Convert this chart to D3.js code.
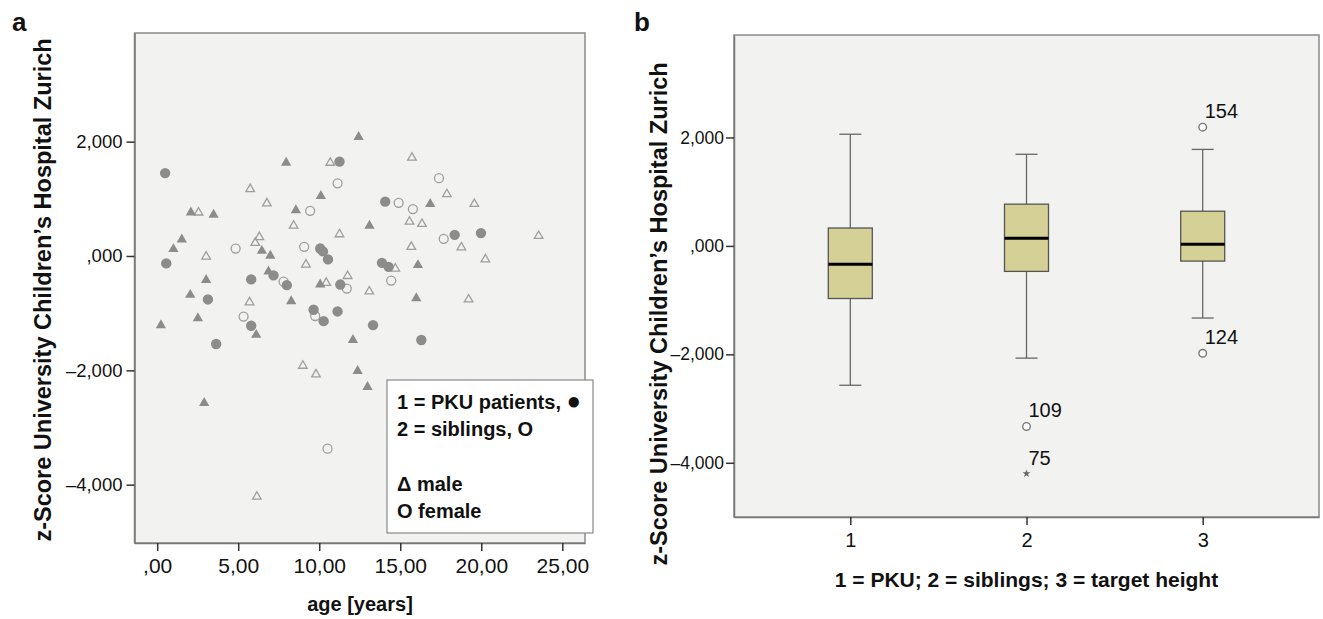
<!DOCTYPE html>
<html lang="en">
    <head>
        <meta charset="utf-8">
        <title>z-Score PKU</title>
        <script src="https://d3js.org/d3.v7.min.js"></script>
        <style type="text/css">
            body { margin: 0; background: #fff; }
            svg { font-family: "Liberation Sans", Arial, sans-serif; }
            .tick text { fill: #111; }
            .ylab .tick text { font-size: 18.5px; }
            .xlab .tick text { font-size: 21px; }
            .bold { font-weight: bold; fill: #111; }
        </style>
    </head>
    <body>
        <script type="text/javascript">

            //data - panel a, [age, z-score]
            const pkuFemale = [[0.49,1.45],[11.25,1.65],[10.06,0.13],[10.23,0.08],[10.54,-0.06],[0.56,-0.13],[5.8,-0.41],
                [7.18,-0.34],[8.0,-0.51],[11.3,-0.5],[3.13,-0.76],[9.65,-0.94],[10.27,-1.14],[11.13,-0.97],[5.8,-1.22],
                [3.64,-1.54],[14.07,0.95],[18.36,0.37],[19.98,0.40],[13.87,-0.12],[14.28,-0.19],[13.32,-1.21],[16.3,-1.47]];
            const pkuMale = [[7.96,1.63],[10.1,1.05],[2.08,0.76],[3.48,0.72],[8.56,0.80],[1.52,0.29],[1.0,0.12],[6.46,0.09],
                [6.98,0.005],[3.02,-0.42],[6.87,-0.27],[10.06,-0.5],[2.04,-0.68],[8.27,-0.79],[2.51,-1.09],[0.23,-1.21],
                [6.11,-1.38],[2.9,-2.57],[12.43,2.08],[16.85,0.91],[13.1,0.53],[16.09,-0.16],[15.99,-0.74],[12.08,-1.47],
                [12.37,-2.01],[12.98,-2.29]];
            const sibFemale = [[11.13,1.27],[9.44,0.79],[4.84,0.13],[9.07,0.16],[7.8,-0.45],[11.7,-0.57],[9.75,-1.05],
                [5.33,-1.06],[10.51,-3.37],[17.39,1.36],[14.9,0.93],[15.78,0.82],[17.68,0.3],[14.44,-0.43]];
            const sibMale = [[10.68,1.63],[5.74,1.17],[6.77,0.92],[2.55,0.76],[8.42,0.53],[11.25,0.38],[6.3,0.33],[6.05,0.23],
                [3.02,-0.01],[9.18,-0.15],[11.75,-0.35],[10.43,-0.47],[5.7,-0.81],[8.99,-1.92],[9.8,-2.07],[6.15,-4.21],
                [15.72,1.72],[17.88,1.08],[19.57,0.91],[15.57,0.6],[16.34,0.56],[23.54,0.35],[15.68,0.16],[18.77,0.15],
                [20.25,-0.06],[14.69,-0.22],[13.09,-0.62],[19.22,-0.76]];
            const ageTicks = [0, 5, 10, 15, 20, 25];
            const zTicks = [-4, -2, 0, 2];
            const legendLines = [["1 = PKU patients, ", "\u25CF"], ["2 = siblings, O", ""], ["", ""], ["\u0394 male", ""], ["O female", ""]];

            //data - panel b, box plots
            const groups = ["1", "2", "3"];
            const boxes = [
                {g: "1", lo: -2.57, q1: -0.97, med: -0.34, q3: 0.33, hi: 2.06},
                {g: "2", lo: -2.07, q1: -0.47, med: 0.14, q3: 0.77, hi: 1.69},
                {g: "3", lo: -1.33, q1: -0.28, med: 0.03, q3: 0.64, hi: 1.78}
            ];
            const outliers = [
                {g: "2", v: -3.33, id: "109", kind: "o"},
                {g: "2", v: -4.2, id: "75", kind: "*"},
                {g: "3", v: 2.19, id: "154", kind: "o"},
                {g: "3", v: -1.98, id: "124", kind: "o"}
            ];

            //consts
            const w = 1323, h = 619;
            const zFmt = d => d === 0 ? ",000" : (d < 0 ? "\u2013" : "") + Math.abs(d) + ",000";
            const ageFmt = d => d === 0 ? ",00" : d + ",00";
            const yTitle = "z-Score University Children\u2019s Hospital Zurich";

            const svg = d3.select("body").append("svg")
                .attr("width", w)
                .attr("height", h);

            // ---------- panel a ----------
            const ax = {l: 134.5, r: 585, t: 33, b: 543};
            const xA = d3.scaleLinear().domain([-1.4, 26.4]).range([ax.l, ax.r]);
            const yA = d3.scaleLinear().domain([-5.02, 3.9]).range([ax.b, ax.t]);

            svg.append("rect")
                .attr("x", ax.l).attr("y", ax.t)
                .attr("width", ax.r - ax.l).attr("height", ax.b - ax.t)
                .attr("fill", "#f2f3f1").attr("stroke", "#8a8a8a").attr("stroke-width", 1.5);

            svg.append("g")
                .attr("class", "axis ylab")
                .attr("transform", "translate(" + ax.l + ",0)")
                .call(d3.axisLeft(yA).tickValues(zTicks).tickFormat(zFmt).tickSizeInner(8).tickSizeOuter(0).tickPadding(4))
                .call(g => g.select(".domain").attr("stroke", "#777").attr("stroke-width", 1.5));

            svg.append("g")
                .attr("class", "axis xlab")
                .attr("transform", "translate(0," + ax.b + ")")
                .call(d3.axisBottom(xA).tickValues(ageTicks).tickFormat(ageFmt).tickSizeInner(8).tickSizeOuter(0).tickPadding(7))
                .call(g => g.select(".domain").attr("stroke", "#777").attr("stroke-width", 1.5));

            svg.selectAll(".axis .tick line").attr("stroke", "#333").attr("stroke-width", 1.5);

            const tri = d3.symbol().type(d3.symbolTriangle);

            svg.append("g").selectAll("path")
                .data(sibMale).enter().append("path")
                .attr("transform", d => "translate(" + xA(d[0]) + "," + yA(d[1]) + ")")
                .attr("d", tri.size(32)())
                .attr("fill", "none").attr("stroke", "#9e9e9e").attr("stroke-width", 1.3);

            svg.append("g").selectAll("circle")
                .data(sibFemale).enter().append("circle")
                .attr("cx", d => xA(d[0])).attr("cy", d => yA(d[1]))
                .attr("r", 4.5)
                .attr("fill", "none").attr("stroke", "#9e9e9e").attr("stroke-width", 1.3);

            svg.append("g").selectAll("path")
                .data(pkuMale).enter().append("path")
                .attr("transform", d => "translate(" + xA(d[0]) + "," + yA(d[1]) + ")")
                .attr("d", tri.size(46)())
                .attr("fill", "#8c8c8c");

            svg.append("g").selectAll("circle")
                .data(pkuFemale).enter().append("circle")
                .attr("cx", d => xA(d[0])).attr("cy", d => yA(d[1]))
                .attr("r", 5.2)
                .attr("fill", "#8c8c8c");

            //legend
            svg.append("rect")
                .attr("x", 387).attr("y", 380)
                .attr("width", 206).attr("height", 153)
                .attr("fill", "#fff").attr("stroke", "#888").attr("stroke-width", 1.2);

            const lt = svg.append("g").selectAll("text")
                .data(legendLines).enter().append("text")
                .attr("class", "bold")
                .attr("x", 397)
                .attr("y", (d, i) => 409 + i * 27.3)
                .style("font-size", "20px");
            lt.append("tspan").text(d => d[0]);
            lt.append("tspan").style("font-size", "24px").text(d => d[1]);

            svg.append("text").attr("class", "bold")
                .attr("x", 360).attr("y", 611)
                .attr("text-anchor", "middle")
                .style("font-size", "20px")
                .text("age [years]");

            svg.append("text").attr("class", "bold")
                .attr("transform", "translate(51,290) rotate(-90)")
                .attr("text-anchor", "middle")
                .style("font-size", "23.5px")
                .text(yTitle);

            svg.append("text").attr("class", "bold")
                .attr("x", 12).attr("y", 31)
                .style("font-size", "26px")
                .text("a");

            // ---------- panel b ----------
            const bx = {l: 734, r: 1319, t: 35, b: 517};
            const xB = d3.scalePoint().domain(groups).range([bx.l, bx.r]).padding(0.66);
            const yB = d3.scaleLinear().domain([-5.0, 3.89]).range([bx.b, bx.t]);
            const boxW = 44, capW = 22;

            svg.append("rect")
                .attr("x", bx.l).attr("y", bx.t)
                .attr("width", bx.r - bx.l).attr("height", bx.b - bx.t)
                .attr("fill", "#f2f3f1").attr("stroke", "#8a8a8a").attr("stroke-width", 1.5);

            svg.append("g")
                .attr("class", "axisb")
                .attr("transform", "translate(" + bx.l + ",0)")
                .call(d3.axisLeft(yB).tickValues(zTicks).tickFormat(zFmt).tickSizeInner(8).tickSizeOuter(0).tickPadding(2))
                .call(g => g.select(".domain").attr("stroke", "#777").attr("stroke-width", 1.5))
                .call(g => g.selectAll(".tick text").style("font-size", "17.5px"));

            svg.append("g")
                .attr("class", "axisb")
                .attr("transform", "translate(0," + bx.b + ")")
                .call(d3.axisBottom(xB).tickSizeInner(8).tickSizeOuter(0).tickPadding(8))
                .call(g => g.select(".domain").attr("stroke", "#777").attr("stroke-width", 1.5))
                .call(g => g.selectAll(".tick text").style("font-size", "20px"));

            svg.selectAll(".axisb .tick line").attr("stroke", "#333").attr("stroke-width", 1.5);

            const bg = svg.append("g").selectAll("g")
                .data(boxes).enter().append("g");

            bg.append("line")
                .attr("x1", d => xB(d.g)).attr("x2", d => xB(d.g))
                .attr("y1", d => yB(d.hi)).attr("y2", d => yB(d.lo))
                .attr("stroke", "#666").attr("stroke-width", 1.3);

            bg.selectAll("line.cap")
                .data(d => [d.hi, d.lo].map(v => ({g: d.g, v: v})))
                .enter().append("line")
                .attr("class", "cap")
                .attr("x1", d => xB(d.g) - capW / 2).attr("x2", d => xB(d.g) + capW / 2)
                .attr("y1", d => yB(d.v)).attr("y2", d => yB(d.v))
                .attr("stroke", "#666").attr("stroke-width", 1.3);

            bg.append("rect")
                .attr("x", d => xB(d.g) - boxW / 2)
                .attr("y", d => yB(d.q3))
                .attr("width", boxW)
                .attr("height", d => yB(d.q1) - yB(d.q3))
                .attr("fill", "#d5d095").attr("stroke", "#555").attr("stroke-width", 1.3);

            bg.append("line")
                .attr("x1", d => xB(d.g) - boxW / 2).attr("x2", d => xB(d.g) + boxW / 2)
                .attr("y1", d => yB(d.med)).attr("y2", d => yB(d.med))
                .attr("stroke", "#000").attr("stroke-width", 3);

            const og = svg.append("g").selectAll("g")
                .data(outliers).enter().append("g")
                .attr("transform", d => "translate(" + xB(d.g) + "," + yB(d.v) + ")");

            og.filter(d => d.kind === "o").append("circle")
                .attr("r", 3.8)
                .attr("fill", "#fff").attr("stroke", "#777").attr("stroke-width", 1.4);

            og.filter(d => d.kind === "*").append("path")
                .attr("d", d3.symbol().type(d3.symbolStar).size(20)())
                .attr("fill", "#666");

            og.append("text")
                .attr("x", 2).attr("y", -9)
                .style("font-size", "20px")
                .attr("fill", "#111")
                .text(d => d.id);

            svg.append("text").attr("class", "bold")
                .attr("x", (bx.l + bx.r) / 2).attr("y", 587)
                .attr("text-anchor", "middle")
                .style("font-size", "21px")
                .text("1 = PKU; 2 = siblings; 3 = target height");

            svg.append("text").attr("class", "bold")
                .attr("transform", "translate(667,314) rotate(-90)")
                .attr("text-anchor", "middle")
                .style("font-size", "23.5px")
                .text(yTitle);

            svg.append("text").attr("class", "bold")
                .attr("x", 634).attr("y", 31)
                .style("font-size", "26px")
                .text("b");

        </script>
    </body>
</html>
